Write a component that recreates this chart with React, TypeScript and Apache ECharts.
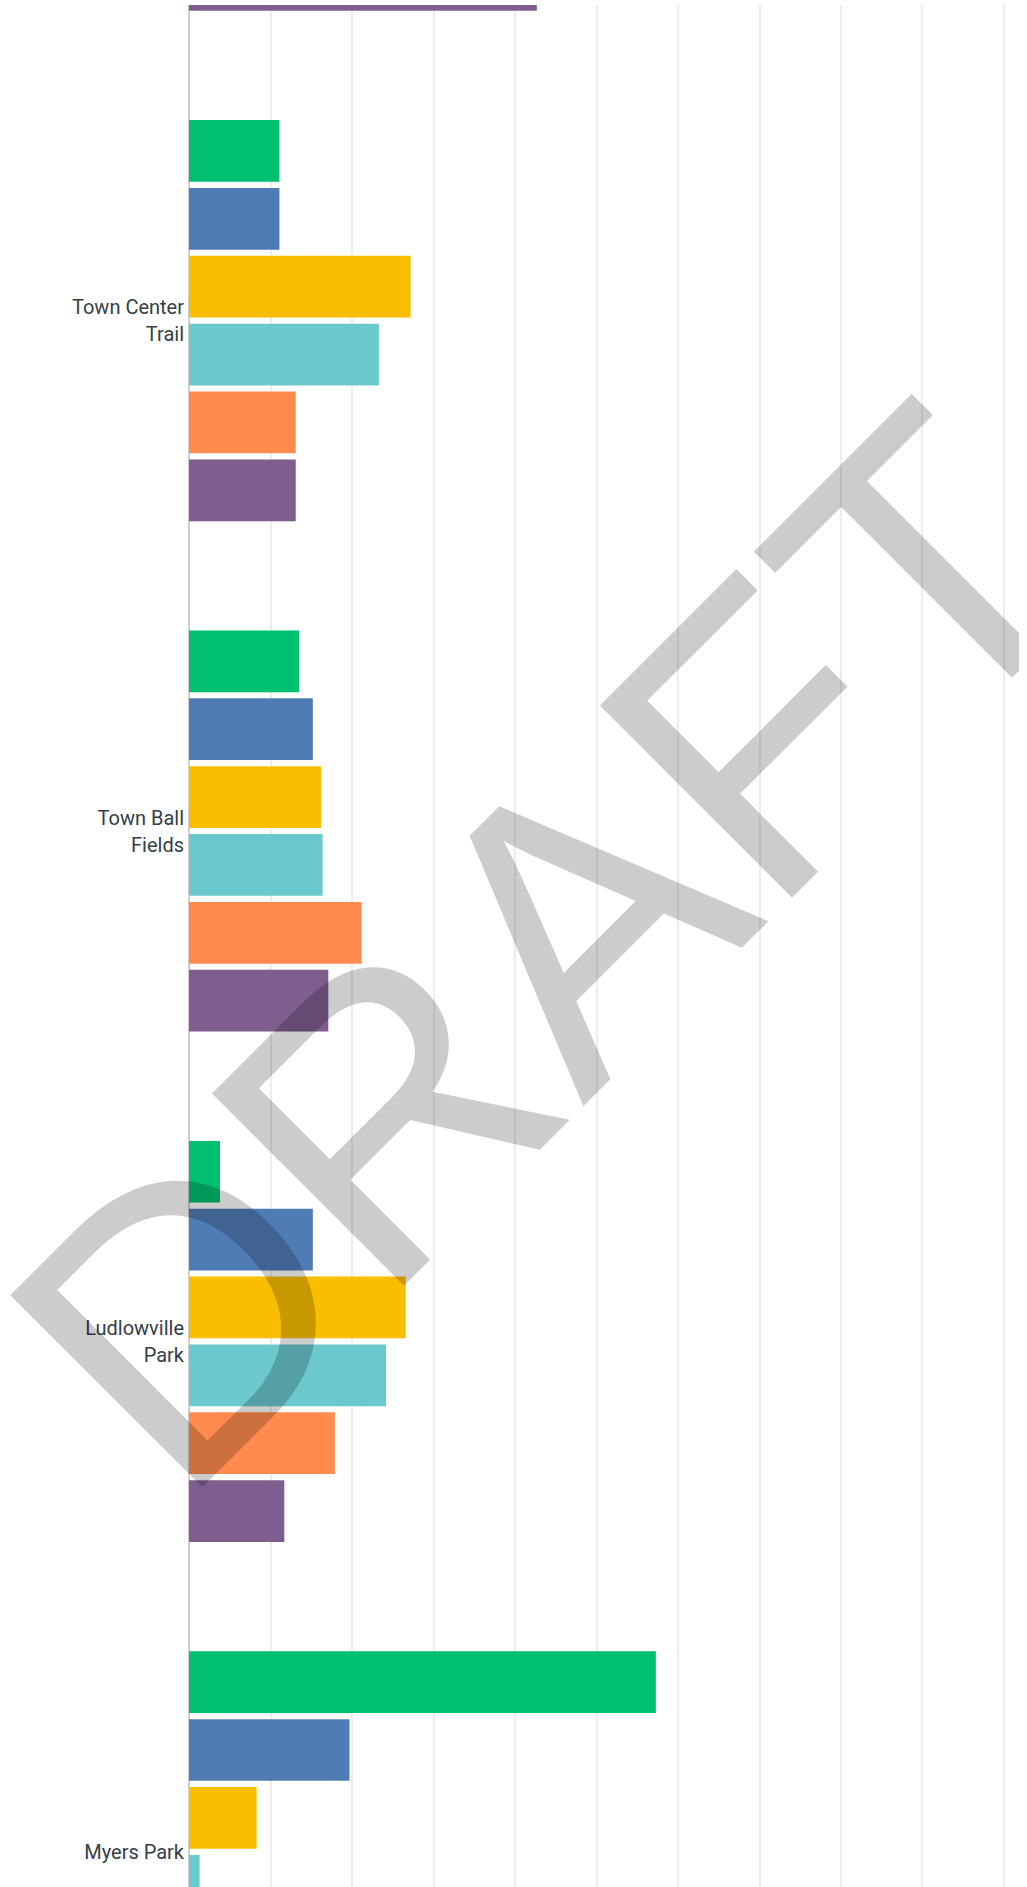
import React, { useEffect, useRef } from 'react';
import * as echarts from 'echarts';

const categories = ['', 'Town Center Trail', 'Town Ball Fields', 'Ludlowville Park', 'Myers Park'];
const seriesNames = ['Series 1', 'Series 2', 'Series 3', 'Series 4', 'Series 5', 'Series 6'];
const seriesColors = ['#00BF6F', '#507CB6', '#F9BE00', '#6BC8CD', '#FF8B4F', '#7F5E8F'];

const green = [null, 11.1, 13.5, 3.8, 57.3];
const blue = [null, 11.1, 15.2, 15.2, 19.7];
const yellow = [null, 27.2, 16.2, 26.6, 8.3];
const cyan = [null, 23.3, 16.4, 24.2, 1.3];
const orange = [null, 13.1, 21.2, 17.9, null];
const purple = [42.7, 13.1, 17.1, 11.7, null];

const seriesValues = [green, blue, yellow, cyan, orange, purple];

const axisMin = 0;
const axisMax = 100;
const axisInterval = 10;

const watermarkText = 'DRAFT';

function wrapLabel(name: string, maxChars: number): string {
  const words = name.split(' ');
  const lines: string[] = [];
  let cur = '';
  for (const w of words) {
    if (!cur) cur = w;
    else if ((cur + ' ' + w).length <= maxChars) cur = cur + ' ' + w;
    else {
      lines.push(cur);
      cur = w;
    }
  }
  if (cur) lines.push(cur);
  return lines.join('\n');
}

const INNER_TOP = -450;
const INNER_HEIGHT = 2552;

export default function App() {
  const ref = useRef<HTMLDivElement>(null);
  useEffect(() => {
    const chart = echarts.init(ref.current!, null, { renderer: 'svg' });
    chart.setOption({
      animation: false,
      grid: { left: 181, right: 15.3, top: 0, bottom: 0, containLabel: false },
      xAxis: {
        type: 'value',
        min: axisMin,
        max: axisMax,
        interval: axisInterval,
        axisLabel: { show: false },
        axisLine: { show: false },
        axisTick: { show: false },
        splitLine: { show: true, lineStyle: { color: '#ededed', width: 2 } },
      },
      yAxis: {
        type: 'category',
        inverse: true,
        data: categories,
        axisLine: { show: true, lineStyle: { color: '#cfcfcf', width: 2 } },
        axisTick: { show: false },
        axisLabel: {
          color: '#333e48',
          fontFamily: 'Roboto',
          fontSize: 20,
          lineHeight: 27,
          margin: 5,
          align: 'right',
          formatter: (v: string) => wrapLabel(v, 11),
        },
      },
      series: seriesValues.map((vals, i) => ({
        name: seriesNames[i],
        type: 'bar',
        data: vals,
        barWidth: 61.7,
        barGap: '10%',
        itemStyle: { color: seriesColors[i] },
      })),
      graphic: [
        {
          type: 'text',
          x: 540,
          y: 943 - INNER_TOP,
          rotation: Math.PI / 4,
          z: 100,
          silent: true,
          style: {
            text: watermarkText,
            fontFamily: 'Liberation Sans',
            fontSize: 395,
            fill: 'rgba(0,0,0,0.2)',
            align: 'center',
            verticalAlign: 'middle',
          },
        },
      ],
    });
    return () => chart.dispose();
  }, []);
  return (
    <div
      style={{ position: 'absolute', left: 8, top: 5, width: 1011, height: 1882, overflow: 'hidden' }}
    >
      <div
        ref={ref}
        style={{ position: 'absolute', left: 0, top: INNER_TOP, width: 1011, height: INNER_HEIGHT }}
      />
    </div>
  );
}
